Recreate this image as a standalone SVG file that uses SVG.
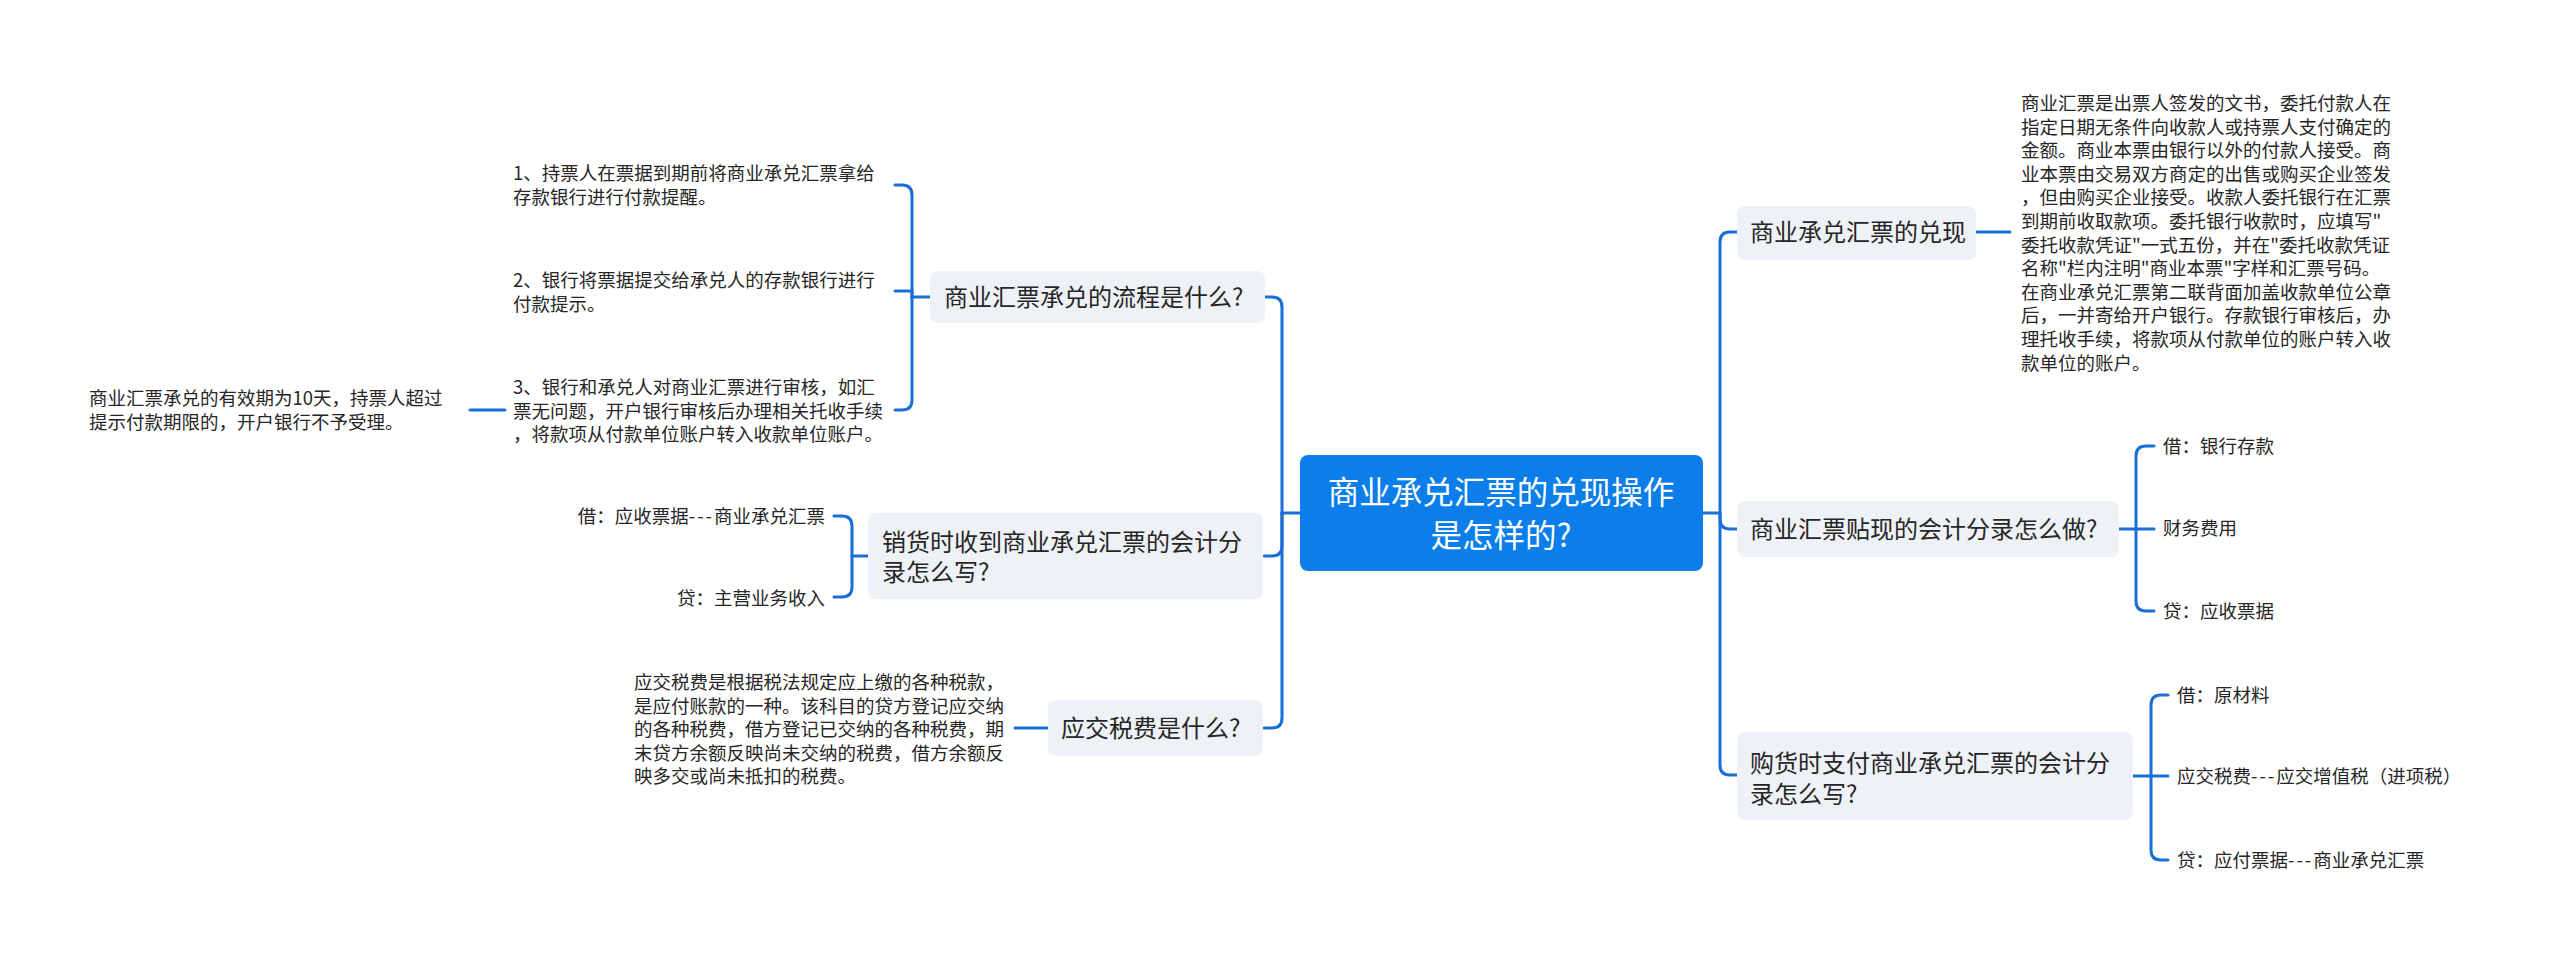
<svg xmlns="http://www.w3.org/2000/svg" width="2560" height="959" viewBox="0 0 2560 959">
<style>
text{font-family:"Noto Sans CJK SC","Noto Sans",sans-serif;fill:#262626}
.root{fill:#0b7ee9}
.rootT{fill:#ffffff;font-size:31.5px;text-anchor:middle}
.node{fill:#eef1f5}
.nT{font-size:24px}
.s{font-size:18.5px}
.e{text-anchor:end}
.d{letter-spacing:2px}
.ln{fill:none;stroke:#1a6fd6;stroke-width:3;stroke-linecap:round;stroke-linejoin:round}
</style>
<rect width="2560" height="959" fill="#ffffff"/>
<g id="connectors">
<path class="ln" d="M1703 513 H1720"/>
<path class="ln" d="M1720 513 V242 Q1720 232 1730 232 H1737"/>
<path class="ln" d="M1720 513 V519 Q1720 529 1730 529 H1737"/>
<path class="ln" d="M1720 513 V765 Q1720 775 1730 775 H1737"/>
<path class="ln" d="M1300 513 H1282"/>
<path class="ln" d="M1282 513 V307 Q1282 297 1272 297 H1265"/>
<path class="ln" d="M1282 513 V546 Q1282 556 1272 556 H1264"/>
<path class="ln" d="M1282 513 V718 Q1282 728 1272 728 H1264"/>
<path class="ln" d="M1976 232 H2010"/>
<path class="ln" d="M2119 529 H2154"/>
<path class="ln" d="M2136 529 V456 Q2136 446 2146 446 H2154"/>
<path class="ln" d="M2136 529 V601 Q2136 611 2146 611 H2154"/>
<path class="ln" d="M2133 776 H2168"/>
<path class="ln" d="M2151 776 V705 Q2151 695 2161 695 H2168"/>
<path class="ln" d="M2151 776 V850 Q2151 860 2161 860 H2168"/>
<path class="ln" d="M930 297 H912"/>
<path class="ln" d="M912 297 V195 Q912 185 902 185 H895"/>
<path class="ln" d="M912 297 V291 H895"/>
<path class="ln" d="M912 297 V400 Q912 410 902 410 H895"/>
<path class="ln" d="M505 410 H470"/>
<path class="ln" d="M868 556 H852"/>
<path class="ln" d="M852 556 V526 Q852 516 842 516 H834"/>
<path class="ln" d="M852 556 V587 Q852 597 842 597 H834"/>
<path class="ln" d="M1048 728 H1015"/>
</g>
<g id="root">
<rect class="root" x="1300" y="455" width="403" height="116" rx="8"/>
<text class="rootT" x="1501" y="504">商业承兑汇票的兑现操作</text>
<text class="rootT" x="1501" y="547">是怎样的?</text>
</g>
<g id="n-duixian">
<rect class="node" x="1737" y="206" width="239" height="54" rx="8"/>
<text class="nT" x="1750" y="241">商业承兑汇票的兑现</text>
</g>
<g id="n-duixian-desc">
<text class="s" x="2021" y="110">商业汇票是出票人签发的文书，委托付款人在</text>
<text class="s" x="2021" y="133.6">指定日期无条件向收款人或持票人支付确定的</text>
<text class="s" x="2021" y="157.2">金额。商业本票由银行以外的付款人接受。商</text>
<text class="s" x="2021" y="180.8">业本票由交易双方商定的出售或购买企业签发</text>
<text class="s" x="2021" y="204.4">，但由购买企业接受。收款人委托银行在汇票</text>
<text class="s" x="2021" y="228">到期前收取款项。委托银行收款时，应填写"</text>
<text class="s" x="2021" y="251.6">委托收款凭证"一式五份，并在"委托收款凭证</text>
<text class="s" x="2021" y="275.2">名称"栏内注明"商业本票"字样和汇票号码。</text>
<text class="s" x="2021" y="298.8">在商业承兑汇票第二联背面加盖收款单位公章</text>
<text class="s" x="2021" y="322.4">后，一并寄给开户银行。存款银行审核后，办</text>
<text class="s" x="2021" y="346">理托收手续，将款项从付款单位的账户转入收</text>
<text class="s" x="2021" y="369.6">款单位的账户。</text>
</g>
<g id="n-tiexian">
<rect class="node" x="1737" y="501" width="382" height="56" rx="8"/>
<text class="nT" x="1750" y="538">商业汇票贴现的会计分录怎么做?</text>
</g>
<g id="n-tiexian-1"><text class="s" x="2163" y="453">借：银行存款</text></g>
<g id="n-tiexian-2"><text class="s" x="2163" y="535">财务费用</text></g>
<g id="n-tiexian-3"><text class="s" x="2163" y="618">贷：应收票据</text></g>
<g id="n-gouhuo">
<rect class="node" x="1737" y="732" width="396" height="88" rx="8"/>
<text class="nT" x="1750" y="772">购货时支付商业承兑汇票的会计分</text>
<text class="nT" x="1750" y="803">录怎么写?</text>
</g>
<g id="n-gouhuo-1"><text class="s" x="2177" y="702">借：原材料</text></g>
<g id="n-gouhuo-2"><text class="s" x="2177" y="783">应交税费<tspan class="d">---</tspan>应交增值税（进项税）</text></g>
<g id="n-gouhuo-3"><text class="s" x="2177" y="867">贷：应付票据<tspan class="d">---</tspan>商业承兑汇票</text></g>
<g id="n-liucheng">
<rect class="node" x="930" y="271" width="335" height="52" rx="8"/>
<text class="nT" x="944" y="306">商业汇票承兑的流程是什么?</text>
</g>
<g id="n-liucheng-1">
<text class="s" x="513" y="180">1、持票人在票据到期前将商业承兑汇票拿给</text>
<text class="s" x="513" y="203.6">存款银行进行付款提醒。</text>
</g>
<g id="n-liucheng-2">
<text class="s" x="513" y="287">2、银行将票据提交给承兑人的存款银行进行</text>
<text class="s" x="513" y="310.6">付款提示。</text>
</g>
<g id="n-liucheng-3">
<text class="s" x="513" y="394">3、银行和承兑人对商业汇票进行审核，如汇</text>
<text class="s" x="513" y="417.6">票无问题，开户银行审核后办理相关托收手续</text>
<text class="s" x="513" y="441.2">，将款项从付款单位账户转入收款单位账户。</text>
</g>
<g id="n-liucheng-3-note">
<text class="s" x="89" y="405">商业汇票承兑的有效期为10天，持票人超过</text>
<text class="s" x="89" y="428.6">提示付款期限的，开户银行不予受理。</text>
</g>
<g id="n-xiaohuo">
<rect class="node" x="868" y="513" width="395" height="86" rx="8"/>
<text class="nT" x="882" y="551">销货时收到商业承兑汇票的会计分</text>
<text class="nT" x="882" y="581">录怎么写?</text>
</g>
<g id="n-xiaohuo-1"><text class="s e" x="825" y="523">借：应收票据<tspan class="d">---</tspan>商业承兑汇票</text></g>
<g id="n-xiaohuo-2"><text class="s e" x="825" y="605">贷：主营业务收入</text></g>
<g id="n-yingjiao">
<rect class="node" x="1048" y="700" width="215" height="56" rx="8"/>
<text class="nT" x="1061" y="737">应交税费是什么?</text>
</g>
<g id="n-yingjiao-desc">
<text class="s" x="634" y="689">应交税费是根据税法规定应上缴的各种税款，</text>
<text class="s" x="634" y="712.6">是应付账款的一种。该科目的贷方登记应交纳</text>
<text class="s" x="634" y="736.2">的各种税费，借方登记已交纳的各种税费，期</text>
<text class="s" x="634" y="759.8">末贷方余额反映尚未交纳的税费，借方余额反</text>
<text class="s" x="634" y="783.4">映多交或尚未抵扣的税费。</text>
</g>
</svg>
